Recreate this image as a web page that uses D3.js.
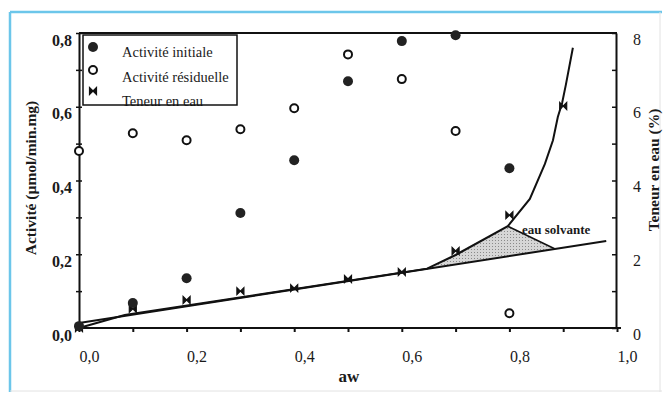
<!DOCTYPE html>
<html>
<head>
<meta charset="utf-8">
<script src="https://cdn.jsdelivr.net/npm/d3@7"></script>
<style>
  body { margin: 0; background: #fff; }
  text { font-family: "Liberation Serif", "Times New Roman", serif; fill: #1a1a1a; }
</style>
</head>
<body>
<div id="chart"></div>
<script>
// aw values (x)
const awValues = [0.0, 0.1, 0.2, 0.3, 0.4, 0.5, 0.6, 0.7, 0.8];
// Activité initiale (µmol/min.mg)
const initiale = [0.005, 0.068, 0.135, 0.312, 0.455, 0.669, 0.778, 0.794, 0.433];
// Activité résiduelle (µmol/min.mg)
const residuelle = [0.48, 0.528, 0.509, 0.539, 0.596, 0.742, 0.675, 0.534, 0.04];
// Teneur en eau (%)
const eauAw = [0.0, 0.1, 0.2, 0.3, 0.4, 0.5, 0.6, 0.7, 0.8, 0.9];
const eau = [0.0, 0.52, 0.76, 1.0, 1.08, 1.33, 1.52, 2.09, 3.06, 6.02];
// isotherm curve [aw, %]
const courbe = [[0, 0], [0.085, 0.35], [0.647, 1.61], [0.70, 1.98], [0.797, 2.76],
  [0.838, 3.5], [0.866, 4.45], [0.881, 5.09], [0.89, 5.72], [0.898, 6.1], [0.905, 6.6], [0.918, 7.6]];
// straight line (eau liée)
const droite = [[0, 0.135], [0.98, 2.36]];
// eau solvante area
const solvante = [[0.647, 1.61], [0.797, 2.76], [0.885, 2.14]];

const xTicks = d3.range(0, 1.001, 0.1);
const yLTicks = d3.range(0, 0.801, 0.1);
const yRTicks = d3.range(0, 8.01, 1);

const W = 665, H = 394;
const svg = d3.select("#chart").append("svg")
  .attr("width", W).attr("height", H);

// scanned frame
svg.append("line").attr("x1", 10).attr("x2", 662).attr("y1", 12).attr("y2", 12)
  .attr("stroke", "#6cc6ea").attr("stroke-width", 2.5);
svg.append("line").attr("x1", 10).attr("x2", 10).attr("y1", 12).attr("y2", 392)
  .attr("stroke", "#6cc6ea").attr("stroke-width", 2.5);
svg.append("line").attr("x1", 660).attr("x2", 660).attr("y1", 12).attr("y2", 392)
  .attr("stroke", "#e2e2e2").attr("stroke-width", 1);
svg.append("line").attr("x1", 10).attr("x2", 662).attr("y1", 391).attr("y2", 391)
  .attr("stroke", "#e2e2e2").attr("stroke-width", 1);

const x = d3.scaleLinear().domain([0, 1]).range([79, 617]);
const yL = d3.scaleLinear().domain([0, 0.8]).range([328, 33]);
const yR = d3.scaleLinear().domain([0, 8]).range([328, 33]);

const fr = d3.formatLocale({decimal: ",", thousands: " ", grouping: [3], currency: ["", ""]});
const f1 = fr.format(".1f");
const isMajor = v => Math.round(v * 10) % 2 === 0;

// pattern for shaded area
const defs = svg.append("defs");
const pat = defs.append("pattern").attr("id", "dots")
  .attr("width", 3).attr("height", 3).attr("patternUnits", "userSpaceOnUse");
pat.append("rect").attr("width", 3).attr("height", 3).attr("fill", "#d6d6d6");
pat.append("rect").attr("width", 1).attr("height", 1).attr("fill", "#8a8a8a");

// bottom axis
const gx = svg.append("g").attr("transform", "translate(0,328)")
  .call(d3.axisBottom(x).tickValues(xTicks).tickSize(4).tickSizeOuter(0)
    .tickFormat(d => isMajor(d) ? f1(d) : ""));
gx.select(".domain").attr("stroke", "#111").attr("stroke-width", 2).attr("d", "M79,0H621");
gx.selectAll(".tick line").attr("stroke", "#111").attr("stroke-width", 2);
gx.selectAll(".tick text").attr("y", 34).attr("dy", 0).attr("dx", 10)
  .style("font-size", "16px").style("font-family", "Liberation Serif").attr("fill", "#222");

// left axis
const gyl = svg.append("g").attr("transform", "translate(79,0)")
  .call(d3.axisLeft(yL).tickValues(yLTicks).tickSize(3).tickSizeOuter(0)
    .tickFormat(d => isMajor(d) ? f1(d) : ""));
gyl.select(".domain").attr("stroke", "#111").attr("stroke-width", 2);
gyl.selectAll(".tick line").attr("x1", 3).attr("x2", -3).attr("stroke", "#111").attr("stroke-width", 1.5);
gyl.selectAll(".tick text").attr("x", -7).attr("dy", "0.75em")
  .style("font-size", "16px").style("font-weight", "bold").style("font-family", "Liberation Serif")
  .attr("fill", "#444");

// right axis
const gyr = svg.append("g").attr("transform", "translate(616,0)")
  .call(d3.axisRight(yR).tickValues(yRTicks).tickSize(-4).tickSizeOuter(0).tickPadding(17)
    .tickFormat(d => d % 2 === 0 ? d : ""));
gyr.select(".domain").attr("stroke", "#111").attr("stroke-width", 2);
gyr.selectAll(".tick line").attr("stroke", "#111").attr("stroke-width", 1.5);
gyr.selectAll(".tick text").attr("dy", "0.7em")
  .style("font-size", "16px").style("font-family", "Liberation Serif").attr("fill", "#222");

// top frame
svg.append("line").attr("x1", 79).attr("x2", 617).attr("y1", 33).attr("y2", 33)
  .attr("stroke", "#111").attr("stroke-width", 2);

// axis titles
svg.append("text").attr("transform", "translate(36,178) rotate(-90)")
  .attr("text-anchor", "middle").style("font-size", "15.5px").style("font-weight", "bold")
  .text("Activité (µmol/min.mg)");
svg.append("text").attr("transform", "translate(659,170) rotate(-90)")
  .attr("text-anchor", "middle").style("font-size", "15.5px").style("font-weight", "bold")
  .text("Teneur en eau (%)");
svg.append("text").attr("x", 349).attr("y", 382).attr("text-anchor", "middle")
  .style("font-size", "17px").style("font-weight", "bold").text("aw");

// shaded eau solvante
const lineR = d3.line().x(d => x(d[0])).y(d => yR(d[1]));
svg.append("path").attr("d", lineR(solvante) + "Z")
  .attr("fill", "url(#dots)").attr("stroke", "none");
svg.append("path").attr("d", lineR(solvante.slice(1)))
  .attr("fill", "none").attr("stroke", "#111").attr("stroke-width", 1.6);

// straight line and curve
svg.append("path").attr("d", lineR(droite))
  .attr("fill", "none").attr("stroke", "#111").attr("stroke-width", 2);
svg.append("path").attr("d", lineR(courbe))
  .attr("fill", "none").attr("stroke", "#111").attr("stroke-width", 2);

svg.append("text").attr("x", 522).attr("y", 234)
  .style("font-size", "13px").style("font-weight", "bold").text("eau solvante");

// markers
const bowtie = "M-3.5,-3.5L-3.5,3.5L3.5,-3.5L3.5,3.5Z";
svg.append("g").selectAll("path").data(eau).join("path")
  .attr("transform", (d, i) => `translate(${x(eauAw[i])},${yR(d)})`)
  .attr("d", bowtie).attr("fill", "#111").attr("stroke", "#111").attr("stroke-width", 1.2);

svg.append("g").selectAll("circle").data(initiale).join("circle")
  .attr("cx", (d, i) => x(awValues[i])).attr("cy", d => yL(d))
  .attr("r", 5).attr("fill", "#222");

svg.append("g").selectAll("circle").data(residuelle).join("circle")
  .attr("cx", (d, i) => x(awValues[i])).attr("cy", d => yL(d))
  .attr("r", 4).attr("fill", "#fff").attr("stroke", "#111").attr("stroke-width", 2);

// legend
const lg = svg.append("g");
lg.append("circle").attr("cx", 93).attr("cy", 47).attr("r", 5).attr("fill", "#222");
lg.append("circle").attr("cx", 93).attr("cy", 70).attr("r", 4).attr("fill", "#fff")
  .attr("stroke", "#111").attr("stroke-width", 2);
lg.append("path").attr("transform", "translate(93,91)").attr("d", bowtie)
  .attr("fill", "#111").attr("stroke", "#111").attr("stroke-width", 1.2);
const legendLabels = ["Activité initiale", "Activité résiduelle", "Teneur en eau"];
lg.selectAll("text").data(legendLabels).join("text")
  .attr("x", 122).attr("y", (d, i) => [57, 82, 106][i])
  .style("font-size", "14.5px").text(d => d);
lg.append("rect").attr("x", 83).attr("y", 35).attr("width", 154).attr("height", 70)
  .attr("fill", "none").attr("stroke", "#111").attr("stroke-width", 1.5);
</script>
</body>
</html>
